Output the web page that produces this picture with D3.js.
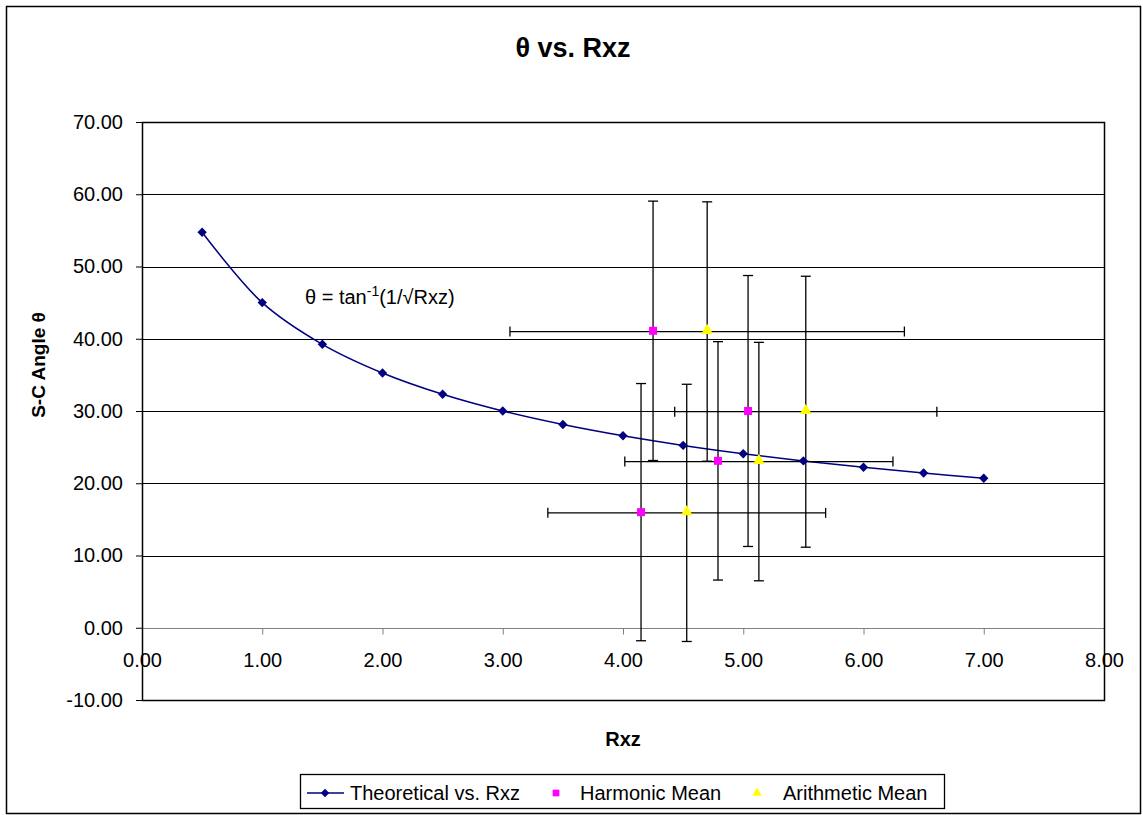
<html>
<head>
<title>theta vs Rxz</title>
<style>
  body { margin: 0; background: #fff; }
  text { font-family: Arial, "Liberation Sans", sans-serif; }
</style>
</head>
<body>
<svg id="svg" width="1143" height="815"></svg>
<script src="https://d3js.org/d3.v7.min.js" charset="utf-8"></script>
<script>
    // theoretical curve
    const rxz = [0.5, 1.0, 1.5, 2.0, 2.5, 3.0, 3.5, 4.0, 4.5, 5.0, 5.5, 6.0, 6.5, 7.0];
    const theta = [54.74, 45.00, 39.23, 35.26, 32.31, 30.00, 28.13, 26.57, 25.24, 24.09, 23.09, 22.21, 21.42, 20.70];

    // measured means
    const harmonicX = [4.25, 5.04, 4.79, 4.15];
    const harmonicY = [41.1, 30.0, 23.1, 16.0];
    const arithX = [4.70, 5.52, 5.13, 4.53];
    const arithY = [41.0, 29.9, 23.0, 15.9];
    const yErr = [17.95, 18.75, 16.5, 17.8];
    const xErr = [1.64, 1.09, 1.115, 1.155];

    const xTicks = [0, 1, 2, 3, 4, 5, 6, 7, 8];
    const yTicks = [-10, 0, 10, 20, 30, 40, 50, 60, 70];

    const svg = d3.select('#svg');
    const pLeft = 142, pRight = 1104, pTop = 122, pBottom = 700;
    const font = "Arial, 'Liberation Sans', sans-serif";
    const fmt = function(d) { return d.toFixed(2); };

    const x = d3.scaleLinear().domain([0, 8]).range([pLeft, pRight]);
    const y = d3.scaleLinear().domain([-10, 70]).range([pBottom, pTop]);

    // outer chart border
    svg.append("rect")
        .attr("x", 6.5).attr("y", 6.5).attr("width", 1134).attr("height", 807)
        .attr("fill", "#fff").attr("stroke", "#000").attr("stroke-width", 1.5);

    svg.append("text")
        .attr("x", 573).attr("y", 57)
        .attr("text-anchor", "middle")
        .style("font-size", "27px").style("font-weight", "bold")
        .text("θ vs. Rxz");

    // gridlines
    svg.append("g").selectAll("line")
        .data(yTicks.filter(function(d) { return d !== 0; }))
        .enter().append("line")
        .attr("x1", pLeft).attr("x2", pRight)
        .attr("y1", function(d) { return Math.round(y(d)) + 0.5; })
        .attr("y2", function(d) { return Math.round(y(d)) + 0.5; })
        .attr("stroke", "#000").attr("stroke-width", 1);

    // y axis with outward ticks
    svg.append("g")
        .attr("transform", "translate(" + pLeft + ",0)")
        .call(d3.axisLeft(y).tickValues(yTicks).tickSize(6).tickPadding(13).tickFormat(fmt))
        .call(function(g) {
            g.select(".domain").remove();
            g.selectAll("line").attr("stroke", "#000");
            g.selectAll("text").style("font-size", "20px").attr("fill", "#000")
                .style("font-family", font);
        });

    // x axis sitting on y = 0
    svg.append("g")
        .attr("transform", "translate(0," + (Math.round(y(0)) + 0.5) + ")")
        .call(d3.axisBottom(x).tickValues(xTicks).tickSize(6).tickPadding(18).tickFormat(fmt))
        .call(function(g) {
            g.select(".domain").attr("stroke", "#808080").attr("d", "M" + pLeft + ",0H" + pRight);
            g.selectAll("line").attr("stroke", "#808080");
            g.selectAll("text").style("font-size", "20px").attr("fill", "#000")
                .style("font-family", font);
        });

    // plot area border
    svg.append("rect")
        .attr("x", pLeft + 0.5).attr("y", pTop + 0.5)
        .attr("width", pRight - pLeft).attr("height", pBottom - pTop)
        .attr("fill", "none").attr("stroke", "#000").attr("stroke-width", 1.5);

    // axis titles
    svg.append("text")
        .attr("x", 623).attr("y", 746)
        .attr("text-anchor", "middle")
        .style("font-size", "20px").style("font-weight", "bold")
        .text("Rxz");
    svg.append("text")
        .attr("transform", "translate(45,365)rotate(-90)")
        .attr("text-anchor", "middle")
        .style("font-size", "19px").style("font-weight", "bold")
        .text("S-C Angle θ");

    // formula annotation
    const note = svg.append("text")
        .attr("x", 305).attr("y", 304)
        .style("font-size", "20px");
    note.append("tspan").text("θ = tan");
    note.append("tspan").attr("dy", -8).style("font-size", "14px").text("-1");
    note.append("tspan").attr("dy", 8).text("(1/√Rxz)");

    // theoretical line
    const pts = rxz.map(function(d, i) { return [d, theta[i]]; });
    svg.append("path")
        .datum(pts)
        .attr("fill", "none").attr("stroke", "#000080").attr("stroke-width", 1.5)
        .attr("d", d3.line()
            .x(function(d) { return x(d[0]); })
            .y(function(d) { return y(d[1]); })
            .curve(d3.curveCatmullRom.alpha(0.5)));

    // error bars
    const eb = svg.append("g").attr("stroke", "#000").attr("stroke-width", 1.3);
    function vbar(cx, cy, e) {
        const x0 = x(cx), y1 = y(cy + e), y2 = y(cy - e);
        eb.append("line").attr("x1", x0).attr("x2", x0).attr("y1", y1).attr("y2", y2);
        eb.append("line").attr("x1", x0 - 5).attr("x2", x0 + 5).attr("y1", y1).attr("y2", y1);
        eb.append("line").attr("x1", x0 - 5).attr("x2", x0 + 5).attr("y1", y2).attr("y2", y2);
    }
    function hbar(cx, cy, e) {
        const y0 = y(cy), x1 = x(cx - e), x2 = x(cx + e);
        eb.append("line").attr("x1", x1).attr("x2", x2).attr("y1", y0).attr("y2", y0);
        eb.append("line").attr("x1", x1).attr("x2", x1).attr("y1", y0 - 5).attr("y2", y0 + 5);
        eb.append("line").attr("x1", x2).attr("x2", x2).attr("y1", y0 - 5).attr("y2", y0 + 5);
    }
    harmonicX.forEach(function(d, i) { vbar(d, harmonicY[i], yErr[i]); });
    arithX.forEach(function(d, i) {
        vbar(d, arithY[i], yErr[i]);
        hbar(d, arithY[i], xErr[i]);
    });

    // markers
    const diamond = d3.symbol().type(d3.symbolSquare).size(44);
    const square = d3.symbol().type(d3.symbolSquare).size(64);
    const triangle = d3.symbol().type(d3.symbolTriangle).size(60);

    svg.append("g").selectAll("path")
        .data(pts).enter().append("path")
        .attr("d", diamond)
        .attr("fill", "#000080")
        .attr("transform", function(d) { return "translate(" + x(d[0]) + "," + y(d[1]) + ")rotate(45)"; });

    svg.append("g").selectAll("path")
        .data(harmonicX).enter().append("path")
        .attr("d", square)
        .attr("fill", "#ff00ff")
        .attr("transform", function(d, i) { return "translate(" + x(d) + "," + y(harmonicY[i]) + ")"; });

    svg.append("g").selectAll("path")
        .data(arithX).enter().append("path")
        .attr("d", triangle)
        .attr("fill", "#ffff00")
        .attr("transform", function(d, i) { return "translate(" + x(d) + "," + (y(arithY[i]) - 1) + ")"; });

    // legend
    const lg = svg.append("g");
    lg.append("rect")
        .attr("x", 300.5).attr("y", 774.5).attr("width", 644).attr("height", 34)
        .attr("fill", "#fff").attr("stroke", "#000").attr("stroke-width", 1.3);
    lg.append("line")
        .attr("x1", 307).attr("x2", 344).attr("y1", 793).attr("y2", 793)
        .attr("stroke", "#000080").attr("stroke-width", 1.5);
    lg.append("path").attr("d", d3.symbol().type(d3.symbolSquare).size(36)).attr("fill", "#000080")
        .attr("transform", "translate(325,793)rotate(45)");
    lg.append("text").attr("x", 350).attr("y", 800).style("font-size", "20px")
        .text("Theoretical vs. Rxz");
    lg.append("path").attr("d", d3.symbol().type(d3.symbolSquare).size(45)).attr("fill", "#ff00ff")
        .attr("transform", "translate(556,793)");
    lg.append("text").attr("x", 580).attr("y", 800).style("font-size", "20px")
        .text("Harmonic Mean");
    lg.append("path").attr("d", d3.symbol().type(d3.symbolTriangle).size(40)).attr("fill", "#ffff00")
        .attr("transform", "translate(757,793)");
    lg.append("text").attr("x", 783).attr("y", 800).style("font-size", "20px")
        .text("Arithmetic Mean");
</script>
</body>
</html>
